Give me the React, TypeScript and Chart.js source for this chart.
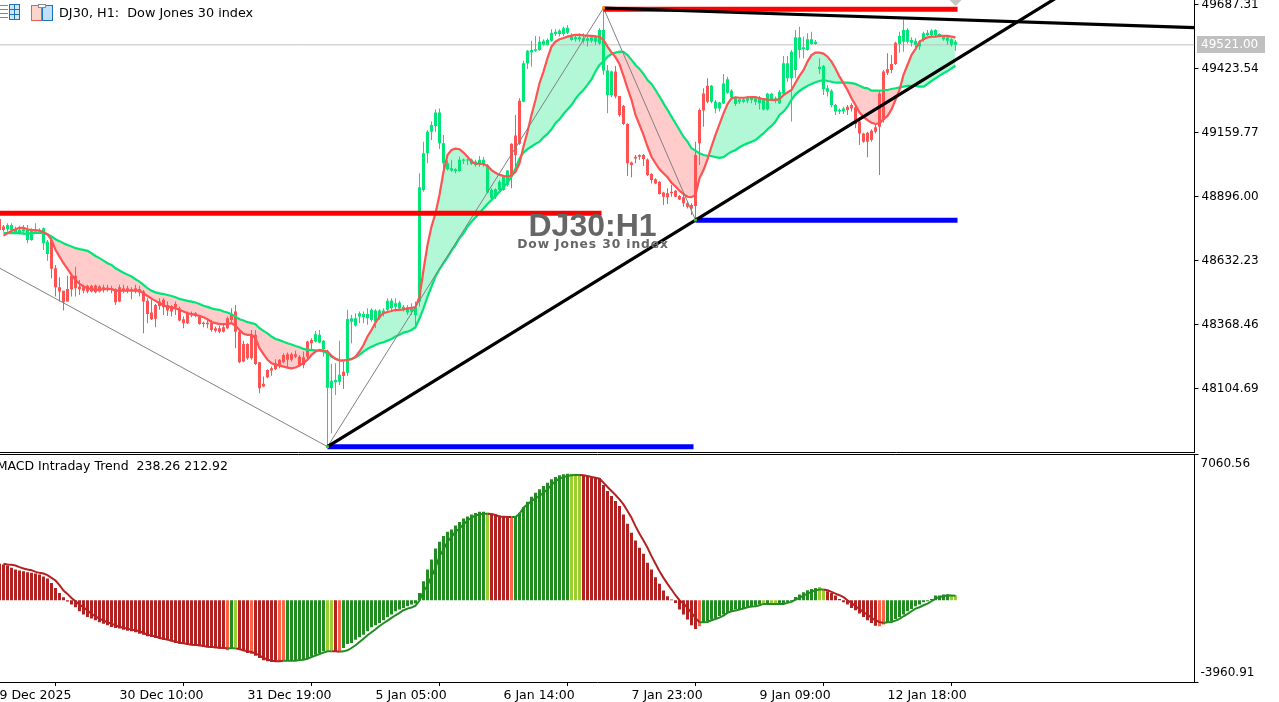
import React, { useEffect, useRef } from "react";
import { Chart, registerables } from "chart.js";

Chart.register(...registerables);

// ---- price pane data -------------------------------------------------
const bodyTop = [
  48772,48779,48779,48761,48758,48761,48761,48758,48761,48758,
  48765,48710,48717,48600,48522,48508,48515,48569,48569,48525,
  48522,48528,48528,48529,48525,48522,48521,48519,48514,48522,
  48518,48518,48514,48518,48514,48504,48466,48418,48449,48463,
  48470,48449,48445,48453,48435,48390,48418,48415,48415,48401,
  48376,48376,48376,48353,48353,48357,48394,48408,48422,48339,
  48288,48288,48326,48326,48213,48124,48181,48188,48209,48223,
  48243,48246,48246,48246,48236,48234,48298,48305,48328,48326,
  48301,48250,48137,48140,48161,48174,48391,48394,48394,48415,
  48412,48412,48429,48426,48426,48426,48466,48467,48456,48459,
  48442,48440,48435,48440,48934,49074,49163,49191,49242,49242,
  49115,49033,49012,49008,49047,49049,49049,49049,49040,49047,
  49047,49026,48923,48926,48957,48978,49003,49113,49147,49291,
  49445,49497,49500,49503,49534,49538,49541,49571,49575,49580,
  49589,49592,49555,49552,49552,49548,49548,49552,49552,49582,
  49582,49415,49411,49411,49310,49269,49195,49036,49060,49067,
  49067,49049,48989,48967,48957,48912,48909,48916,48920,48898,
  48893,48868,48861,49067,49253,49321,49352,49352,49287,49283,
  49362,49379,49332,49305,49297,49297,49301,49305,49301,49305,
  49294,49319,49319,49301,49328,49445,49445,49493,49552,49552,
  49511,49544,49544,49534,49431,49434,49342,49332,49273,49253,
  49259,49266,49273,49264,49205,49156,49159,49167,49181,49321,
  49411,49420,49442,49530,49558,49582,49582,49541,49538,49534,
  49569,49571,49580,49582,49566,49555,49552,49544,49534,
];
const bodyBottom = [
  48758,48761,48758,48745,48747,48754,48717,48717,48751,48751,
  48703,48659,48598,48522,48504,48460,48463,48514,48518,48514,
  48508,48504,48504,48501,48504,48514,48511,48511,48460,48463,
  48508,48508,48508,48504,48500,48463,48412,48390,48392,48445,
  48440,48426,48422,48440,48385,48374,48374,48407,48404,48371,
  48371,48370,48346,48343,48339,48339,48353,48387,48339,48213,
  48216,48229,48229,48206,48106,48113,48151,48179,48184,48202,
  48213,48223,48223,48236,48202,48202,48236,48291,48298,48294,
  48267,48108,48106,48130,48133,48156,48170,48380,48364,48401,
  48398,48394,48387,48380,48394,48415,48429,48435,48442,48435,
  48431,48418,48422,48408,48463,48923,49074,49163,49187,49115,
  49033,49008,49003,49001,49001,49043,49044,49030,49026,49030,
  49030,48912,48889,48895,48923,48923,48944,48978,49067,49113,
  49287,49445,49490,49497,49500,49521,49521,49538,49566,49566,
  49566,49571,49541,49544,49544,49538,49538,49538,49534,49527,
  49415,49314,49314,49308,49232,49195,49033,49026,49053,49060,
  49051,48985,48964,48950,48906,48895,48893,48909,48895,48884,
  48868,48854,48847,48857,49115,49250,49287,49287,49259,49259,
  49280,49324,49305,49277,49287,49287,49291,49294,49287,49280,
  49255,49255,49297,49291,49280,49319,49383,49383,49417,49500,
  49503,49500,49525,49525,49422,49338,49328,49273,49246,49246,
  49246,49253,49259,49195,49156,49122,49122,49129,49163,49184,
  49211,49406,49417,49442,49525,49534,49534,49530,49521,49514,
  49541,49562,49562,49562,49558,49544,49538,49521,49521,
];
const highs = [
  48779,48786,48786,48772,48775,48779,48779,48765,48786,48765,
  48768,48717,48724,48614,48563,48508,48569,48573,48607,48552,
  48532,48532,48532,48533,48530,48532,48532,48528,48518,48532,
  48532,48528,48522,48532,48528,48511,48477,48470,48453,48477,
  48477,48463,48449,48463,48442,48401,48422,48422,48420,48408,
  48381,48387,48387,48360,48363,48367,48401,48435,48449,48346,
  48302,48291,48346,48346,48213,48154,48184,48195,48225,48225,
  48250,48253,48253,48260,48243,48257,48301,48312,48342,48346,
  48305,48264,48206,48209,48301,48216,48429,48408,48415,48422,
  48422,48435,48435,48431,48431,48435,48477,48477,48477,48466,
  48449,48449,48456,48463,48992,49122,49170,49205,49255,49259,
  49150,49044,49047,49012,49060,49053,49053,49053,49047,49063,
  49060,49030,48930,48930,48964,48985,49005,49115,49232,49301,
  49456,49500,49538,49558,49555,49544,49548,49585,49585,49585,
  49596,49603,49569,49562,49569,49569,49558,49558,49562,49589,
  49673,49438,49415,49434,49310,49273,49198,49040,49067,49070,
  49071,49053,48992,48971,48960,48916,48930,48944,48923,48902,
  48902,48875,48868,49122,49259,49342,49383,49356,49294,49287,
  49401,49390,49338,49308,49301,49305,49310,49308,49308,49310,
  49301,49324,49324,49308,49335,49475,49475,49500,49582,49596,
  49555,49569,49575,49541,49466,49438,49356,49338,49277,49259,
  49266,49273,49280,49269,49211,49159,49163,49173,49191,49335,
  49417,49486,49479,49534,49575,49624,49589,49552,49548,49541,
  49575,49582,49585,49585,49569,49562,49558,49548,49541,
];
const lows = [
  48751,48751,48756,48742,48738,48745,48703,48714,48745,48747,
  48676,48631,48559,48484,48463,48426,48463,48484,48484,48490,
  48497,48497,48500,48497,48500,48500,48504,48497,48449,48460,
  48497,48497,48473,48497,48484,48332,48374,48387,48357,48429,
  48408,48404,48401,48408,48381,48353,48371,48398,48398,48367,
  48357,48353,48339,48335,48332,48335,48349,48374,48271,48209,
  48213,48223,48223,48202,48085,48110,48147,48157,48181,48188,
  48209,48188,48216,48229,48198,48188,48223,48267,48294,48291,
  48236,47865,47920,48078,48119,48103,48156,48291,48360,48374,
  48374,48367,48380,48353,48387,48401,48422,48422,48422,48429,
  48422,48408,48408,48353,48442,48916,49033,49129,49163,49092,
  49005,49003,48998,48992,48998,49030,49026,49026,49019,49019,
  49019,48909,48884,48886,48916,48920,48937,48930,49019,49108,
  49284,49422,49431,49493,49497,49518,49518,49534,49558,49555,
  49558,49566,49538,49534,49534,49527,49514,49530,49521,49521,
  49397,49239,49305,49301,49225,49191,48981,48975,49033,49047,
  49022,48981,48950,48946,48904,48861,48865,48895,48893,48882,
  48854,48847,48820,48799,49026,49184,49280,49280,49239,49246,
  49277,49319,49301,49269,49277,49280,49280,49280,49273,49255,
  49250,49250,49291,49280,49277,49314,49369,49205,49383,49466,
  49466,49497,49521,49521,49401,49314,49308,49264,49232,49236,
  49236,49232,49246,49177,49108,49118,49058,49122,49156,48985,
  49200,49397,49404,49438,49489,49493,49527,49514,49507,49500,
  49534,49558,49558,49558,49552,49538,49521,49514,49497,
];
const bearishRuns = [[0,0],[12,77],[85,85],[127,129],[153,176],[211,223]];

// the candle that is cut by the left edge of the window, bar -1
const edgeCandle = { top: 48803, bottom: 48758, high: 48810, low: 48752 };

const fastMA = [
  48735,48745,48754,48761,48767,48767,48761,48758,48758,48756,
  48749,48740,48717,48676,48648,48621,48598,48573,48552,48536,
  48525,48518,48514,48511,48511,48514,48514,48514,48508,48508,
  48508,48508,48508,48508,48508,48497,48486,48475,48466,48456,
  48448,48442,48438,48435,48429,48422,48415,48411,48408,48404,
  48398,48390,48379,48374,48370,48370,48370,48374,48363,48346,
  48330,48326,48326,48312,48271,48246,48223,48209,48203,48199,
  48195,48191,48188,48191,48199,48209,48223,48243,48257,48264,
  48261,48257,48240,48227,48220,48220,48223,48225,48236,48257,
  48284,48319,48346,48376,48401,48415,48420,48424,48429,48429,
  48431,48434,48437,48440,48483,48593,48696,48772,48827,48902,
  48998,49067,49088,49093,49091,49077,49060,49040,49031,49031,
  49030,49022,49005,48994,48985,48981,48978,48983,48998,49033,
  49102,49163,49232,49294,49363,49411,49466,49514,49534,49544,
  49549,49555,49559,49562,49562,49560,49559,49558,49556,49555,
  49541,49514,49490,49470,49441,49393,49342,49294,49232,49191,
  49150,49102,49060,49033,49008,48992,48975,48953,48937,48920,
  48906,48895,48893,48902,48971,49005,49049,49102,49150,49194,
  49239,49277,49301,49305,49303,49303,49305,49306,49306,49301,
  49297,49295,49294,49294,49297,49314,49325,49335,49365,49393,
  49417,49452,49479,49489,49489,49485,49472,49452,49424,49390,
  49363,49335,49301,49273,49242,49225,49211,49200,49195,49198,
  49214,49228,49255,49294,49335,49397,49438,49479,49504,49534,
  49544,49552,49555,49555,49558,49558,49558,49555,49552,
];
const slowMA = [
  48745,48745,48745,48745,48745,48743,48742,48745,48746,48746,
  48745,48740,48731,48720,48712,48703,48696,48690,48683,48679,
  48676,48672,48662,48651,48642,48632,48621,48614,48600,48591,
  48582,48574,48566,48555,48545,48532,48518,48508,48501,48497,
  48494,48490,48486,48481,48474,48470,48466,48463,48459,48453,
  48446,48441,48435,48431,48429,48422,48418,48411,48401,48390,
  48385,48378,48374,48370,48353,48342,48332,48319,48309,48304,
  48297,48291,48286,48280,48275,48268,48264,48264,48262,48261,
  48257,48250,48236,48227,48220,48220,48223,48227,48232,48243,
  48257,48268,48277,48284,48291,48295,48302,48309,48319,48326,
  48335,48339,48346,48357,48394,48435,48483,48525,48566,48596,
  48621,48645,48673,48696,48724,48744,48772,48792,48810,48827,
  48847,48865,48882,48898,48916,48934,48953,48978,49012,49053,
  49077,49091,49102,49113,49122,49140,49154,49173,49198,49214,
  49236,49255,49273,49298,49319,49335,49356,49379,49411,49438,
  49452,49472,49483,49489,49493,49492,49479,49459,49438,49422,
  49401,49376,49360,49335,49308,49280,49253,49225,49198,49170,
  49143,49122,49095,49085,49074,49067,49064,49063,49058,49055,
  49058,49071,49081,49088,49099,49108,49115,49122,49129,49143,
  49156,49173,49187,49205,49232,49246,49266,49294,49317,49331,
  49342,49352,49360,49367,49372,49376,49372,49369,49365,49365,
  49365,49365,49363,49360,49352,49345,49342,49332,49332,49332,
  49335,49335,49339,49342,49346,49349,49352,49352,49352,49349,
  49349,49360,49372,49383,49394,49404,49413,49424,49435,
];

const priceTicks = [49687.31, 49423.54, 49159.77, 48896.0, 48632.23, 48368.46, 48104.69];
const lastPrice = 49521.0;
const priceMin = 47840.92;
const priceMax = 49705.9;

const resistanceOld = [{ x: -0.875, y: 48827 }, { x: 149.5, y: 48827 }];
const resistanceNew = [{ x: 150, y: 49668 }, { x: 238.5, y: 49668 }];
const supportOld = [{ x: 81, y: 47865 }, { x: 172.5, y: 47865 }];
const supportNew = [{ x: 173, y: 48798 }, { x: 238.5, y: 48798 }];
const zigzag = [{ x: -0.875, y: 48600 }, { x: 81, y: 47865 }, { x: 150, y: 49673 }, { x: 173, y: 48799 }];
const risingTrend = [{ x: 81, y: 47865 }, { x: 173, y: 48799 }, { x: 266, y: 49743 }];
const fallingTrend = [{ x: 150, y: 49673 }, { x: 297.75, y: 49592 }];

// ---- MACD pane data --------------------------------------------------
const macdEdgeBar = 1764;
const macdHist = [
  1731,1683,1569,1489,1440,1408,1359,1327,1294,1246,
  1149,1052,841,599,356,146,-65,-210,-340,-534,
  -696,-809,-890,-971,-1068,-1133,-1214,-1294,-1343,-1375,
  -1424,-1472,-1505,-1553,-1618,-1667,-1747,-1780,-1828,-1861,
  -1909,-1942,-1990,-2071,-2103,-2120,-2152,-2168,-2200,-2233,
  -2265,-2281,-2314,-2330,-2346,-2362,-2427,-2314,-2281,-2395,
  -2476,-2556,-2605,-2686,-2799,-2912,-2961,-2993,-2993,-2961,
  -2929,-2929,-2929,-2912,-2880,-2848,-2799,-2718,-2637,-2556,
  -2476,-2443,-2427,-2476,-2508,-2314,-2120,-2071,-1909,-1796,
  -1667,-1505,-1311,-1214,-1100,-971,-825,-696,-534,-453,
  -372,-291,-210,-162,356,922,1489,1974,2508,2832,
  3107,3317,3430,3624,3786,3964,4061,4158,4223,4288,
  4288,4239,4191,4158,4110,4061,4029,3996,4029,4239,
  4514,4773,5016,5210,5372,5534,5695,5857,5970,6051,
  6100,6132,6132,6132,6100,6068,6019,5987,5938,5906,
  5582,5291,5048,4805,4563,4158,3705,3268,2896,2540,
  2249,1812,1489,1116,793,469,194,32,-129,-453,
  -696,-938,-1214,-1391,-1262,-1068,-1019,-938,-858,-777,
  -696,-615,-534,-453,-421,-372,-340,-291,-259,-210,
  -162,-162,-162,-162,-162,-129,-97,-49,162,275,
  388,485,550,599,647,518,437,356,227,65,
  -97,-210,-372,-485,-647,-809,-971,-1100,-1230,-1262,
  -1181,-1068,-1019,-906,-809,-696,-534,-421,-291,-210,
  -97,-49,65,227,227,275,275,240,238.26,
];
const macdSignal = [
  1764,1731,1715,1683,1602,1537,1489,1456,1375,1327,
  1294,1214,1084,955,728,469,307,113,-49,-210,
  -340,-502,-663,-777,-890,-987,-1068,-1133,-1214,-1294,
  -1327,-1375,-1424,-1456,-1505,-1586,-1667,-1715,-1747,-1828,
  -1861,-1909,-1958,-2006,-2055,-2087,-2120,-2152,-2168,-2184,
  -2217,-2249,-2265,-2281,-2298,-2314,-2330,-2330,-2330,-2378,
  -2427,-2476,-2508,-2573,-2670,-2799,-2864,-2929,-2961,-2961,
  -2929,-2929,-2929,-2929,-2896,-2880,-2832,-2751,-2686,-2605,
  -2540,-2476,-2476,-2476,-2492,-2476,-2427,-2314,-2184,-2023,
  -1861,-1699,-1553,-1408,-1246,-1116,-987,-858,-728,-615,
  -485,-405,-356,-259,-16,437,712,1149,1569,2136,
  2459,2832,3074,3317,3479,3673,3867,3996,4110,4158,
  4191,4191,4174,4126,4061,4045,4029,4029,4029,4191,
  4482,4644,4805,4935,5048,5210,5372,5582,5776,5890,
  5970,6019,6051,6068,6068,6051,6019,5970,5938,5890,
  5695,5485,5291,5097,4886,4644,4320,3996,3592,3220,
  2896,2540,2136,1764,1408,1084,793,518,243,0,
  -162,-372,-615,-858,-1068,-1068,-1052,-971,-906,-841,
  -744,-615,-534,-502,-453,-405,-340,-307,-291,-243,
  -178,-178,-178,-178,-178,-178,-129,-81,32,113,
  227,324,405,485,518,518,485,405,324,243,
  146,0,-129,-291,-421,-582,-696,-858,-971,-1052,
  -1100,-1068,-1052,-987,-906,-777,-663,-534,-405,-340,
  -243,-162,-49,81,162,194,243,230,212.92,
];
const macdTicks = [7060.56, -3960.91];
const risingRuns = [[57,57],[71,80],[85,120],[128,141],[175,189],[191,191],[194,203],[221,236]];
const lightRiseBars = [58,81,82,121,142,143,144,190,192,193,204,205,237,238];
const lightFallBars = [56,62,69,70,84,127,174,219,220];

const timeTickBars = [-3, 29, 61, 93, 125, 157, 189, 221];
const timeTickLabels = ["29 Dec 2025", "30 Dec 10:00", "31 Dec 19:00", "5 Jan 05:00", "6 Jan 14:00", "7 Jan 23:00", "9 Jan 09:00", "12 Jan 18:00"];

const inRuns = (runs: number[][], i: number) => runs.some(([a, b]) => i >= a && i <= b);
const bearish = bodyTop.map((_, i) => inRuns(bearishRuns, i));
const opens = bodyTop.map((t, i) => (bearish[i] ? t : bodyBottom[i]));
const closes = bodyTop.map((t, i) => (bearish[i] ? bodyBottom[i] : t));

const UP = "#00E676";
const DOWN = "#FF5252";
const AXIS_FONT = "'DejaVu Sans'";
const X_MIN = -0.875;
const X_MAX = 297.75;

const barColor = (i: number) => {
  if (lightRiseBars.includes(i)) return "#9ACD32";
  if (lightFallBars.includes(i)) return "#FF6347";
  return inRuns(risingRuns, i) ? "#228B22" : "#B22222";
};
const lineColor = (i: number) =>
  lightRiseBars.includes(i) || inRuns(risingRuns, i) ? "#228B22" : "#B22222";

const hLine = (data: { x: number; y: number }[], color: string, width: number, order: number) => ({
  type: "line" as const, data, borderColor: color, borderWidth: width, pointRadius: 0, order, fill: false, tension: 0,
});

const noPadding = (s: any) => { s.paddingTop = 0; s.paddingBottom = 0; s.paddingLeft = 0; s.paddingRight = 0; };

const headerPlugin = {
  id: "header",
  afterDatasetsDraw(chart: any) {
    const c = chart.ctx;
    c.save();
    c.lineWidth = 1;
    c.strokeStyle = "#E8604C";
    for (const y of [5.5, 9.5, 13.5, 17.5]) { c.beginPath(); c.moveTo(0, y); c.lineTo(8, y); c.stroke(); }
    c.fillStyle = "#CFE6F7"; c.fillRect(9, 4, 11, 16);
    c.strokeStyle = "#1F72B8"; c.strokeRect(9.5, 4.5, 10, 15);
    for (const y of [9.5, 14.5]) { c.beginPath(); c.moveTo(10, y); c.lineTo(19, y); c.stroke(); }
    c.beginPath(); c.moveTo(14.5, 5); c.lineTo(14.5, 19); c.stroke();
    c.fillStyle = "#FBD5CB"; c.fillRect(31, 6, 10, 15);
    c.strokeStyle = "#E8604C"; c.strokeRect(31.5, 5.5, 10, 15);
    c.fillStyle = "#BFE0F8"; c.fillRect(42, 6, 10, 15);
    c.strokeStyle = "#1F72B8"; c.strokeRect(42.5, 5.5, 10, 15);
    c.fillStyle = "#FFFFFF"; c.strokeStyle = "#8C8C8C";
    c.fillRect(38, 4, 8, 4); c.strokeRect(38.5, 4.5, 7, 3);

    c.fillStyle = "#000";
    c.font = `12.8px ${AXIS_FONT}`;
    c.textBaseline = "middle";
    c.textAlign = "left";
    c.fillText("DJ30, H1:  Dow Jones 30 index", 59, 14);

    c.fillStyle = "#666666";
    c.textAlign = "center";
    c.font = "bold 32px 'Liberation Sans'";
    c.fillText("DJ30:H1", 592.5, 227);
    c.font = `bold 12.3px ${AXIS_FONT}`;
    c.letterSpacing = "0.9px";
    c.fillText("Dow Jones 30 index", 593, 245);
    c.letterSpacing = "0px";

    const y = chart.scales.y.getPixelForValue(lastPrice);
    c.fillStyle = "#C0C0C0";
    c.fillRect(1197, 36, 68, 17);
    c.fillStyle = "#FFFFFF";
    c.textAlign = "left";
    c.font = `12px ${AXIS_FONT}`;
    c.fillText(lastPrice.toFixed(2), 1201, y);
    c.restore();
  },
};

const macdPlugin = {
  id: "macdCaption",
  afterDraw(chart: any) {
    const c = chart.ctx;
    c.save();
    c.strokeStyle = "#000";
    c.lineWidth = 1;
    c.beginPath();
    c.moveTo(0, 0.5);
    c.lineTo(chart.chartArea.right, 0.5);
    c.stroke();
    c.fillStyle = "#000";
    c.font = `12.5px ${AXIS_FONT}`;
    c.textBaseline = "middle";
    c.textAlign = "right";
    c.fillText(`MACD Intraday Trend  ${macdHist[macdHist.length - 1]} ${macdSignal[macdSignal.length - 1]}`, 228, 13);
    c.restore();
  },
};

export default function App() {
  const topRef = useRef<HTMLCanvasElement>(null);
  const bottomRef = useRef<HTMLCanvasElement>(null);

  useEffect(() => {
    const xs = bodyTop.map((_, i) => i);
    const candleColors = [DOWN, ...bearish.map((b) => (b ? DOWN : UP))];
    const slowIndex = 3;

    const top = new Chart(topRef.current as HTMLCanvasElement, {
      type: "bar",
      data: {
        datasets: [
          { type: "bar", label: "wick", data: [{ x: -1, y: [edgeCandle.low, edgeCandle.high] }, ...xs.map((x) => ({ x, y: [lows[x], highs[x]] }))] as any, backgroundColor: candleColors, barThickness: 1, grouped: false, borderWidth: 0, inflateAmount: 0, order: 9 } as any,
          { type: "bar", label: "body", data: [{ x: -1, y: [edgeCandle.top, edgeCandle.bottom] }, ...xs.map((x) => ({ x, y: [opens[x], closes[x]] }))] as any, backgroundColor: candleColors, barThickness: 3, grouped: false, borderWidth: 0, inflateAmount: 0, order: 8 } as any,
          { type: "line", label: "fast", data: xs.map((x) => ({ x, y: fastMA[x] })), borderColor: DOWN, borderWidth: 2.2, pointRadius: 0, tension: 0, order: 6,
            fill: { target: slowIndex, above: "#B2F7D6", below: "#FFCBCB" } } as any,
          { type: "line", label: "slow", data: xs.map((x) => ({ x, y: slowMA[x] })), borderColor: UP, borderWidth: 2.2, pointRadius: 0, tension: 0, order: 7, fill: false } as any,
          hLine([{ x: X_MIN, y: lastPrice }, { x: X_MAX, y: lastPrice }], "#C0C0C0", 1, 10),
          hLine(zigzag, "#808080", 1, 5),
          hLine(resistanceOld, "#FF0000", 5, 4),
          hLine(resistanceNew, "#FF0000", 5, 4),
          hLine(supportOld, "#0000FF", 5, 4),
          hLine(supportNew, "#0000FF", 5, 4),
          hLine(risingTrend, "#000000", 3.2, 3),
          hLine(fallingTrend, "#000000", 3.2, 3),
          { type: "line", label: "swings", data: [{ x: 150, y: 49673 }, { x: 81, y: 47865 }, { x: 173, y: 48799 }], showLine: false, pointStyle: "rect", pointRadius: 2, pointBorderWidth: 0, pointBackgroundColor: ["#FF8C00", "#32CD32", "#32CD32"], order: 2 } as any,
          { type: "line", label: "alert", data: [{ x: 238, y: priceMax }], showLine: false, pointStyle: "rectRot", pointRadius: 6, pointBorderWidth: 0, pointBackgroundColor: "#C4C4C4", order: 2 } as any,
        ],
      },
      options: {
        animation: false,
        responsive: false,
        layout: { autoPadding: false, padding: { left: 0, right: 0, top: 0, bottom: 1.5 } },
        plugins: { legend: { display: false }, tooltip: { enabled: false }, filler: { drawTime: "beforeDatasetsDraw" } },
        scales: {
          x: {
            type: "linear", min: X_MIN, max: X_MAX, offset: false,
            ticks: { display: false }, grid: { display: false },
            border: { color: "#000", width: 1 },
            afterFit: (s: any) => { s.height = 0; noPadding(s); },
          },
          y: {
            type: "linear", position: "right", min: priceMin, max: priceMax,
            afterBuildTicks: (s: any) => { s.ticks = priceTicks.map((value) => ({ value })); },
            afterFit: (s: any) => { s.width = 84.5; noPadding(s); },
            ticks: { autoSkip: false, padding: 3, color: "#000", font: { family: AXIS_FONT, size: 12 }, callback: (v: any) => Number(v).toFixed(2) },
            grid: { drawOnChartArea: false, drawTicks: true, tickLength: 4, color: "#000" },
            border: { color: "#000", width: 1 },
          },
        },
      } as any,
      plugins: [headerPlugin],
    });

    const bottom = new Chart(bottomRef.current as HTMLCanvasElement, {
      type: "bar",
      data: {
        datasets: [
          { type: "bar", label: "MACD", data: [{ x: -1, y: macdEdgeBar }, ...xs.map((x) => ({ x, y: macdHist[x] }))], backgroundColor: ["#B22222", ...xs.map(barColor)], barThickness: 3, grouped: false, borderWidth: 0, inflateAmount: 0, order: 2 } as any,
          { type: "line", label: "Signal", data: xs.map((x) => ({ x, y: macdSignal[x] })), borderWidth: 2, pointRadius: 0, tension: 0, order: 1, fill: false,
            borderColor: "#B22222",
            segment: { borderColor: (ctx: any) => lineColor(ctx.p0DataIndex + 1) } } as any,
        ],
      },
      options: {
        animation: false,
        responsive: false,
        layout: { autoPadding: false, padding: { left: 0, right: 0, top: 0.5, bottom: 0 } },
        plugins: { legend: { display: false }, tooltip: { enabled: false } },
        scales: {
          x: {
            type: "linear", min: X_MIN, max: X_MAX, offset: false,
            afterBuildTicks: (s: any) => { s.ticks = timeTickBars.map((value) => ({ value })); },
            afterFit: (s: any) => { s.height = 20; noPadding(s); },
            ticks: {
              autoSkip: false, maxRotation: 0, minRotation: 0, align: "start", padding: 2, color: "#000",
              font: { family: AXIS_FONT, size: 12.5 },
              callback: (_: any, i: number) => timeTickLabels[i],
            },
            grid: { drawOnChartArea: false, drawTicks: true, tickLength: 4, color: "#000" },
            border: { color: "#000", width: 1 },
          },
          y: {
            type: "linear", position: "right", min: macdTicks[1], max: macdTicks[0],
            afterBuildTicks: (s: any) => { s.ticks = [...macdTicks].reverse().map((value) => ({ value })); },
            afterFit: (s: any) => { s.width = 84.5; noPadding(s); },
            ticks: {
              autoSkip: false, padding: 2, color: "#000",
              font: { family: AXIS_FONT, size: 12, lineHeight: "18px" },
              callback: (v: any) => (Number(v) > 0 ? ["", Number(v).toFixed(2)] : [Number(v).toFixed(2), ""]),
            },
            grid: { drawOnChartArea: false, drawTicks: true, tickLength: 4, color: "#000" },
            border: { color: "#000", width: 1 },
          },
        },
      } as any,
      plugins: [macdPlugin],
    });

    return () => { top.destroy(); bottom.destroy(); };
  }, []);

  return (
    <div style={{ position: "fixed", left: 0, top: 0, width: 1279, height: 702, background: "#fff", overflow: "hidden" }}>
      <canvas ref={topRef} width={1279} height={454} style={{ position: "absolute", left: 0, top: 0, display: "block" }} />
      <canvas ref={bottomRef} width={1279} height={248} style={{ position: "absolute", left: 0, top: 454, display: "block" }} />
    </div>
  );
}
